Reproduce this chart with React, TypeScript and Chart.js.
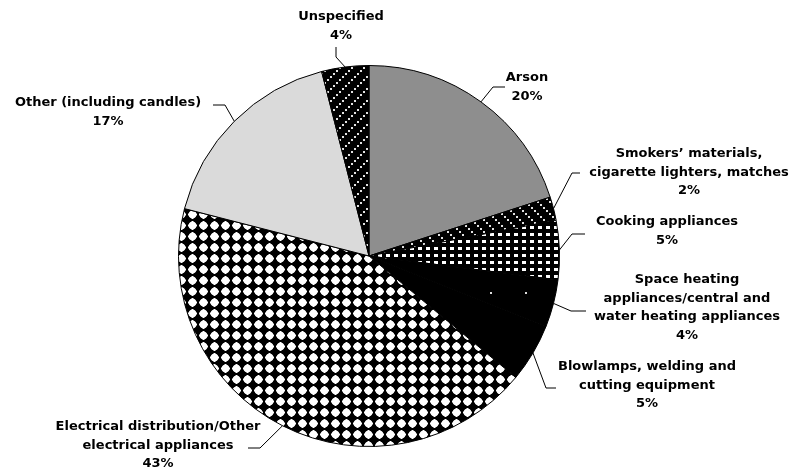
import React, { useEffect, useRef } from "react";
import { Chart, registerables } from "chart.js";

Chart.register(...registerables);

const categories = [
  "Arson",
  "Smokers’ materials, cigarette lighters, matches",
  "Cooking appliances",
  "Space heating appliances/central and water heating appliances",
  "Blowlamps, welding and cutting equipment",
  "Electrical distribution/Other electrical appliances",
  "Other (including candles)",
  "Unspecified",
];
const values = [20, 2, 5, 4, 5, 43, 17, 4];
const labelLines = [
  ["Arson", "20%"],
  ["Smokers’ materials,", "cigarette lighters, matches", "2%"],
  ["Cooking appliances", "5%"],
  ["Space heating", "appliances/central and", "water heating appliances", "4%"],
  ["Blowlamps, welding and", "cutting equipment", "5%"],
  ["Electrical distribution/Other", "electrical appliances", "43%"],
  ["Other (including candles)", "17%"],
  ["Unspecified", "4%"],
];

// label layout: offsets from pie centre (text centre of first line, elbow, end of leader)
const labelLayout = [
  { tx: 158, ty: -178, ex: 124, ey: -169, hx: 136 },
  { tx: 320, ty: -102, ex: 203, ey: -83, hx: 211 },
  { tx: 298, ty: -34, ex: 203, ey: -22, hx: 216 },
  { tx: 318, ty: 24, ex: 202, ey: 55, hx: 217 },
  { tx: 278, ty: 111, ex: 177, ey: 132, hx: 187 },
  { tx: -211, ty: 171, ex: -109, ey: 192, hx: -121 },
  { tx: -261, ty: -153, ex: -144, ey: -151, hx: -156 },
  { tx: -28, ty: -239, ex: -33, ey: -199, hx: -33, vy: -209 },
];

function makePattern(w: number, h: number, draw: (c: CanvasRenderingContext2D) => void) {
  const cv = document.createElement("canvas");
  cv.width = w;
  cv.height = h;
  const c = cv.getContext("2d")!;
  c.fillStyle = "#000";
  c.fillRect(0, 0, w, h);
  draw(c);
  return c.createPattern(cv, "repeat")!;
}

export default function App() {
  const ref = useRef<HTMLCanvasElement>(null);
  useEffect(() => {
    const smokers = makePattern(12, 12, (c) => {
      c.fillStyle = "#e0e0e0";
      for (let i = 0; i < 4; i++) c.fillRect(i * 3, i * 3, 2, 2);
    });
    const cooking = makePattern(8, 7, (c) => {
      c.fillStyle = "#fff";
      c.fillRect(2, 2, 4, 3);
    });
    const heating = makePattern(35, 35, (c) => {
      c.fillStyle = "#ddd";
      c.fillRect(0, 12, 2, 2);
    });
    const electrical = makePattern(11, 11, (c) => {
      c.fillStyle = "#fff";
      c.beginPath();
      c.arc(5.5, 5.5, 3.8, 0, Math.PI * 2);
      c.fill();
      c.fillRect(2.5, 3, 6, 5);
      c.fillRect(3, 2.5, 5, 6);
      c.fillRect(1, 4.5, 9, 2);
      c.fillRect(4.5, 1, 2, 9);
    });
    const unspecified = makePattern(12, 12, (c) => {
      c.fillStyle = "#e0e0e0";
      for (let i = 0; i < 4; i++) c.fillRect(i * 3, 10 - i * 3, 2, 2);
    });
    const colors = [
      "#8e8e8e",
      smokers,
      cooking,
      heating,
      "#000000",
      electrical,
      "#dadada",
      unspecified,
    ];

    const labelPlugin = {
      id: "pieLabels",
      afterDraw(chart: any) {
        const ctx = chart.ctx as CanvasRenderingContext2D;
        const meta = chart.getDatasetMeta(0);
        ctx.save();
        ctx.font = "bold 13px 'DejaVu Sans'";
        ctx.textAlign = "center";
        ctx.textBaseline = "middle";
        ctx.strokeStyle = "#000";
        ctx.lineWidth = 1;
        ctx.fillStyle = "#000";
        meta.data.forEach((arc: any, i: number) => {
          const p = arc.getProps(["x", "y", "startAngle", "endAngle", "outerRadius"], true);
          const mid = (p.startAngle + p.endAngle) / 2;
          const px = p.x + Math.cos(mid) * p.outerRadius;
          const py = p.y + Math.sin(mid) * p.outerRadius;
          const L = labelLayout[i];
          ctx.beginPath();
          ctx.moveTo(px, py);
          ctx.lineTo(p.x + L.ex, p.y + L.ey);
          if (L.vy !== undefined) ctx.lineTo(p.x + L.hx, p.y + L.vy);
          else ctx.lineTo(p.x + L.hx, p.y + L.ey);
          ctx.stroke();
          labelLines[i].forEach((t, k) => {
            ctx.fillText(t, p.x + L.tx, p.y + L.ty + k * 18.5);
          });
        });
        ctx.restore();
      },
    };

    const chart = new Chart(ref.current!, {
      type: "pie",
      data: {
        labels: categories,
        datasets: [
          {
            data: values,
            backgroundColor: colors as any,
            borderColor: "#000",
            borderWidth: 1,
            hoverOffset: 0,
          },
        ],
      },
      options: {
        animation: false,
        responsive: false,
        events: [],
        layout: { padding: { left: 178, right: 233, top: 65, bottom: 29 } },
        plugins: { legend: { display: false }, tooltip: { enabled: false } },
      },
      plugins: [labelPlugin],
    });
    return () => chart.destroy();
  }, []);
  return (
    <div style={{ position: "absolute", left: 0, top: 0, width: 793, height: 476, background: "#fff" }}>
      <canvas ref={ref} width={793} height={476} />
    </div>
  );
}
